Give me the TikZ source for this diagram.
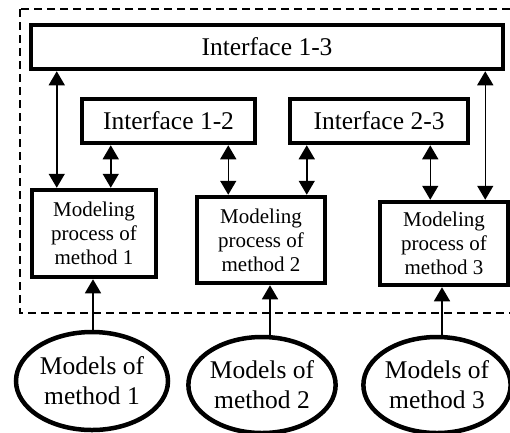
\documentclass[tikz,border=0pt]{standalone}
\usepackage{fontspec}
\setmainfont{Liberation Serif}
\usetikzlibrary{arrows.meta,shapes.geometric}

\begin{document}
\begin{tikzpicture}[x=1pt,y=-1pt]
	\tikzset{
		iface/.style={draw=black,line width=4.5pt,inner sep=0pt,minimum height=44pt,font=\fontsize{25.5}{30}\selectfont},
		proc/.style={draw=black,line width=4.5pt,inner sep=0pt,align=center,font=\fontsize{21}{24}\selectfont},
		model/.style={draw=black,line width=4.5pt,ellipse,inner sep=0pt,align=center,font=\fontsize{25.5}{30}\selectfont},
		link/.style={line width=1.5pt,{Triangle[width=16pt,length=14pt]}-{Triangle[width=16pt,length=14pt]}},
		feed/.style={line width=1.5pt,-{Triangle[width=16pt,length=14pt]}}
	}
	\useasboundingbox (0,0) rectangle (510,432);
	\draw [black,line width=1.5pt,dash pattern=on 8pt off 5pt] (20,9) rectangle (520,313);
	% interfaces
	\node [iface,minimum width=472pt] (i13) at (267,47) {Interface 1-3};
	\node [iface,minimum width=173pt] (i12) at (168.5,121) {Interface 1-2};
	\node [iface,minimum width=178pt] (i23) at (379,121) {Interface 2-3};
	% modeling processes
	\node [proc,minimum width=124pt,minimum height=87pt] (m1) at (94,233.5) {Modeling\\process of\\method 1};
	\node [proc,minimum width=128pt,minimum height=86pt] (m2) at (261,240) {Modeling\\process of\\method 2};
	\node [proc,minimum width=128pt,minimum height=83pt] (m3) at (444,243.5) {Modeling\\process of\\method 3};
	% models
	\node [model,minimum width=152pt,minimum height=98pt] (e1) at (92,381) {Models of\\method 1};
	\node [model,minimum width=142pt,minimum height=96pt] (e2) at (262,385) {Models of\\method 2};
	\node [model,minimum width=146pt,minimum height=96pt] (e3) at (437,385) {Models of\\method 3};
	% exchanges between interfaces and processes
	\draw [link] ([xshift=27pt]m1.north west |- i13.south) -- ([xshift=27pt]m1.north west);
	\draw [link] ([xshift=31pt]i12.south west) -- ([xshift=31pt]i12.south west |- m1.north);
	\draw [link] ([xshift=-29pt]i12.south east) -- ([xshift=-29pt]i12.south east |- m2.north);
	\draw [link] ([xshift=19pt]i23.south west) -- ([xshift=19pt]i23.south west |- m2.north);
	\draw [link] ([xshift=-40pt]i23.south east) -- ([xshift=-40pt]i23.south east |- m3.north);
	\draw [link] ([xshift=-20pt]i13.south east) -- ([xshift=-20pt]i13.south east |- m3.north);
	% models feed the processes
	\draw [feed] ([xshift=1pt]e1.north) -- ([xshift=1pt]e1.north |- m1.south);
	\draw [feed] ([xshift=8pt]e2.north) -- ([xshift=8pt]e2.north |- m2.south);
	\draw [feed] ([xshift=5pt]e3.north) -- ([xshift=5pt]e3.north |- m3.south);
\end{tikzpicture}
\end{document}
